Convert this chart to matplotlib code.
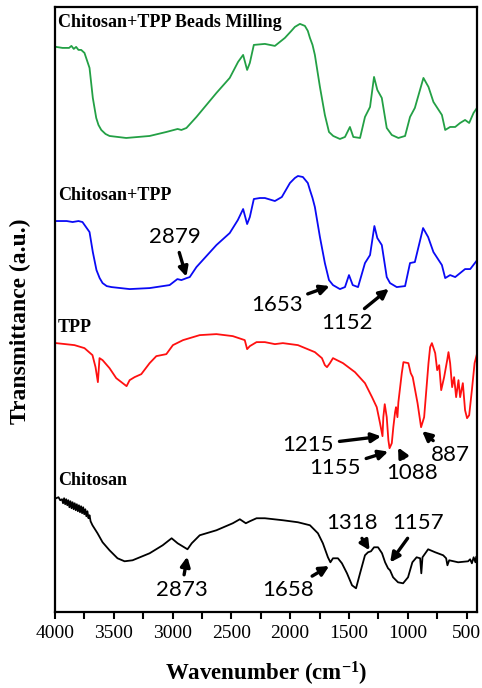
import numpy as np
import matplotlib.pyplot as plt

plt.rcParams["font.family"] = ["Liberation Serif", "DejaVu Serif"]
plt.rcParams["mathtext.fontset"] = "custom"
plt.rcParams["mathtext.rm"] = "Liberation Serif"
plt.rcParams["mathtext.bf"] = "Liberation Serif:bold"
plt.rcParams["mathtext.default"] = "bf"

# ---------------- spectra (wavenumber in cm-1, stacked transmittance in a.u.) ----------------
milled_wn = [3990, 3936, 3880, 3860, 3840, 3820, 3800, 3777, 3749, 3706, 3678, 3649, 3630,
             3606, 3570, 3536, 3394, 3195, 3053, 2957, 2925, 2882, 2797, 2627, 2514, 2443,
             2400, 2366, 2343, 2309, 2215, 2130, 2045, 1990, 1960, 1917, 1875, 1850, 1832,
             1810, 1790, 1747, 1705, 1670, 1634, 1577, 1534, 1492, 1463, 1406, 1364, 1321,
             1287, 1259, 1221, 1179, 1136, 1080, 1023, 981, 940, 867, 824, 782, 710, 682,
             640, 597, 555, 513, 478, 441, 412]
milled_t = [565, 564, 564, 566, 563, 565, 562, 562, 559, 544, 514, 494, 487,
            482, 478, 476, 474, 476, 480, 483, 482, 484, 495, 519, 534, 550,
            557, 542, 549, 567, 568, 566, 574, 581, 585, 588, 586, 581, 574,
            567, 557, 525, 497, 480, 476, 473, 475, 485, 475, 474, 495, 505,
            535, 522, 514, 484, 477, 474, 476, 495, 504, 534, 525, 510, 497, 482,
            485, 485, 489, 492, 489, 499, 504]

ctpp_wn = [3990, 3900, 3850, 3800, 3766, 3706, 3678, 3647, 3620, 3595, 3560, 3519, 3365,
           3195, 3025, 2959, 2925, 2880, 2854, 2797, 2627, 2514, 2445, 2400, 2366, 2343,
           2309, 2258, 2215, 2130, 2071, 2002, 1960, 1934, 1892, 1850, 1832, 1810, 1790,
           1747, 1705, 1670, 1636, 1577, 1534, 1500, 1468, 1423, 1364, 1321, 1284, 1259,
           1221, 1179, 1151, 1094, 1023, 981, 940, 870, 827, 782, 710, 682, 640, 597, 555,
           513, 469, 410]
ctpp_t = [391, 391, 390, 391, 390, 380, 360, 342, 334, 329, 326, 325, 323,
          324, 327, 333, 332, 334, 335, 345, 367, 379, 392, 403, 388, 395,
          413, 414, 414, 411, 415, 429, 434, 436, 435, 429, 422, 414, 405,
          375, 349, 332, 327, 323, 325, 337, 327, 325, 349, 357, 386, 374,
          367, 335, 329, 325, 326, 349, 350, 384, 375, 360, 347, 334, 337, 335, 339,
          343, 343, 352]

tpp_wn = [3990, 3834, 3749, 3681, 3655, 3635, 3621, 3595, 3536, 3479, 3391, 3365, 3323,
          3266, 3195, 3138, 3053, 2997, 2911, 2769, 2627, 2488, 2386, 2366, 2343, 2286,
          2215, 2130, 2062, 1934, 1790, 1730, 1705, 1687, 1662, 1636, 1551, 1449, 1364,
          1304, 1264, 1236, 1215, 1208, 1196, 1179, 1165, 1155, 1136, 1123, 1108, 1100,
          1088, 1080, 1051, 1037, 995, 975, 958, 917, 887, 861, 824, 810, 795, 767, 750,
          733, 716, 691, 665, 654, 640, 623, 606, 589, 569, 555, 532, 513, 496, 478, 455,
          432, 410]
tpp_t = [269, 267, 264, 257, 245, 230, 254, 252, 244, 234, 226, 232, 235,
         238, 249, 256, 258, 267, 272, 277, 278, 276, 272, 263, 266, 270,
         270, 268, 269, 267, 260, 254, 247, 245, 249, 254, 249, 240, 229,
         215, 205, 189, 176, 195, 208, 195, 172, 164, 169, 185, 200, 205,
         195, 210, 239, 250, 249, 239, 235, 209, 185, 195, 249, 265, 269, 259, 242,
         247, 222, 235, 252, 260, 249, 225, 235, 215, 232, 215, 229, 202, 194, 197, 222,
         249, 259]

chi_wn = [3990, 3970, 3955, 3940, 3931, 3922, 3913, 3904, 3895, 3886, 3877, 3868, 3859,
          3850, 3841, 3832, 3823, 3814, 3805, 3796, 3787, 3778, 3769, 3760, 3751, 3742,
          3733, 3724, 3715, 3706, 3697, 3681, 3638, 3595, 3536, 3468, 3408, 3340, 3195,
          3084, 3008, 2957, 2873, 2837, 2769, 2627, 2488, 2428, 2377, 2343, 2286, 2215,
          2062, 1934, 1832, 1764, 1722, 1679, 1658, 1636, 1594, 1560, 1517, 1474, 1440,
          1406, 1364, 1338, 1313, 1287, 1253, 1219, 1193, 1168, 1151, 1125, 1083, 1040,
          998, 961, 925, 895, 885, 875, 827, 767, 699, 674, 663, 648, 572, 487, 470, 455,
          440, 425, 415, 410]
chi_t = [114, 115, 112, 113, 109, 114, 108, 113, 107, 112, 105, 111, 104,
         110, 103, 109, 102, 108, 101, 107, 100, 106, 99, 105, 98, 103,
         96, 101, 94, 97, 91, 87, 79, 70, 62, 54, 51, 52, 59,
         67, 74, 69, 63, 69, 77, 82, 89, 93, 89, 91, 94, 94,
         92, 90, 87, 79, 69, 55, 50, 54, 54, 49, 39, 27, 24,
         39, 57, 60, 61, 65, 65, 59, 50, 44, 42, 35, 30, 29,
         35, 50, 55, 54, 39, 55, 63, 60, 57, 54, 47, 52, 50, 51, 53, 49,
         55, 50, 56, 44]

names = ["Chitosan+TPP Beads Milling", "Chitosan+TPP", "TPP", "Chitosan"]
name_y = [589, 417, 285, 132]
colors = ["#23a045", "#0a0af5", "#ff1010", "black"]

# peak labels: (series index, wavenumber, text x, text y, tip y shift)
peaks = [(1, 2879, 2982, 375, 0), (1, 1653, 2116, 307, -3), (1, 1152, 1520, 289, -5),
         (2, 1215, 1847, 167, 0), (2, 1155, 1619, 144, -3), (2, 1088, 966, 139, -29),
         (2, 887, 640, 157, -3),
         (3, 2873, 2925, 22, -6), (3, 1658, 2017, 22, -3), (3, 1318, 1472, 89, 0),
         (3, 1157, 909, 89, 6)]

spectra = [(milled_wn, milled_t), (ctpp_wn, ctpp_t), (tpp_wn, tpp_t), (chi_wn, chi_t)]

fig = plt.figure(figsize=(4.82, 6.88), dpi=100)
ax = fig.add_axes([0.114, 0.110, 0.876, 0.880])

for (wn, t), c in zip(spectra, colors):
    ax.plot(wn, t, color=c, lw=1.3)

for nm, yy in zip(names, name_y):
    ax.text(3975, yy, nm, fontweight="bold", fontsize=13, ha="left", va="center")

for i, wn0, tx, ty, dy in peaks:
    wn, t = spectra[i]
    tip_y = np.interp(wn0, wn[::-1], t[::-1]) + dy
    ax.annotate(str(wn0), xy=(wn0, tip_y), xytext=(tx, ty),
                ha="center", va="center", fontsize=16, family="Lato",
                arrowprops=dict(arrowstyle="-|>", color="black", lw=2.4,
                                mutation_scale=14, shrinkA=2, shrinkB=1))

ax.set_xlim(4000, 410)
ax.set_ylim(0, 605)
ax.set_xticks([4000, 3500, 3000, 2500, 2000, 1500, 1000, 500])
ax.set_xticks(np.arange(3750, 400, -500), minor=True)
ax.set_yticks([])
ax.tick_params(axis="x", which="both", direction="out", length=5, width=1.5,
               labelsize=14, pad=4)
for s in ax.spines.values():
    s.set_linewidth(1.6)

ax.set_xlabel("Wavenumber (cm$^{-1}$)", fontweight="bold", fontsize=16.5)
ax.set_ylabel("Transmittance (a.u.)", fontweight="bold", fontsize=17)
ax.xaxis.set_label_coords(0.5, -0.078)
ax.yaxis.set_label_coords(-0.057, 0.481)

fig.savefig("out.png", dpi=100)
